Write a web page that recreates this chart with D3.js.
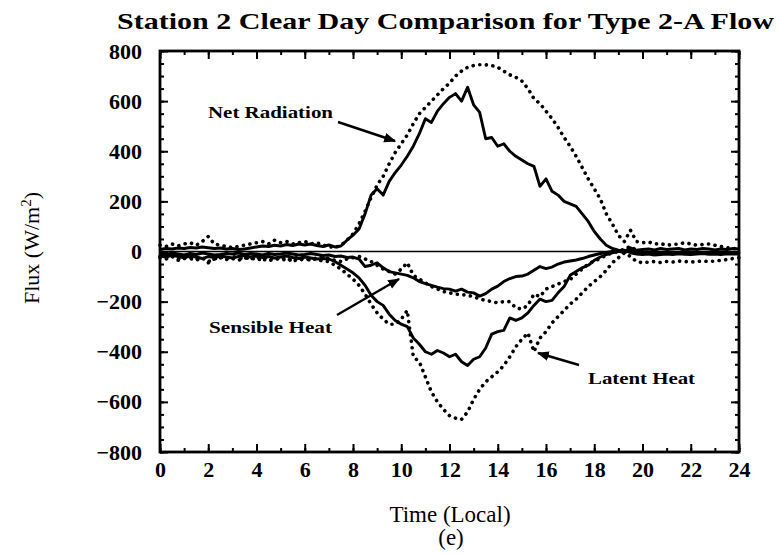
<!DOCTYPE html>
<html><head><meta charset="utf-8">
<script src="https://cdn.jsdelivr.net/npm/d3@7"></script>
<style>body{margin:0;background:#fff}</style>
</head><body>
<svg id="chart" width="779" height="554"></svg>
<script>
const hours = [0,0.25,0.5,0.75,1,1.25,1.5,1.75,2,2.25,2.5,2.75,3,3.25,3.5,3.75,4,4.25,4.5,4.75,5,5.25,5.5,5.75,6,6.25,6.5,6.75,7,7.25,7.5,7.75,8,8.25,8.5,8.75,9,9.25,9.5,9.75,10,10.25,10.5,10.75,11,11.25,11.5,11.75,12,12.25,12.5,12.75,13,13.25,13.5,13.75,14,14.25,14.5,14.75,15,15.25,15.5,15.75,16,16.25,16.5,16.75,17,17.25,17.5,17.75,18,18.25,18.5,18.75,19,19.25,19.5,19.75,20,20.25,20.5,20.75,21,21.25,21.5,21.75,22,22.25,22.5,22.75,23,23.25,23.5,23.75,24];

const netRadSolid = [8,12,10,14, 12,16,14,18, 15,12,14,10, 12,8,10,14, 18,22,20,25, 22,28,24,30, 26,30,24,20, 26,18,22,45, 65,90,150,225, 250,225,280,315, 345,380,420,470, 530,515,560,590, 615,630,600,655, 585,555,450,455, 420,430,400,380, 365,350,340,260, 290,240,225,200, 190,180,150,120, 80,50,25,12, 5,0,15,5, 8,10,6,12, 8,10,12,6, 10,8,12,10, 6,10,8,12, 10];
const netRadDotted = [25,20,30,22, 30,35,25,40, 60,30,25,20, 15,20,25,30, 35,40,30,45, 35,40,30,35, 40,30,35,25, 20,15,25,45, 70,110,160,215, 265,300,350,395, 430,465,510,550, 575,600,625,650, 672,700,720,735, 742,745,745,742, 735,720,705,695, 680,650,610,590, 560,530,495,455, 420,380,335,290, 250,210,150,110, 65,40,85,40, 35,38,30,32, 25,28,30,35, 30,25,28,30, 25,20,15,12, 10];
const sensibleSolid = [-8,-12,-6,-10, -14,-8,-12,-6, -10,-14,-12,-8, -10,-6,-12,-8, -10,-14,-8,-12, -10,-6,-10,-14, -12,-8,-12,-16, -14,-20,-18,-24, -22,-30,-60,-55, -45,-65,-80,-85, -90,-95,-105,-120, -128,-135,-142,-148, -150,-158,-150,-162, -165,-178,-168,-150, -138,-120,-108,-100, -98,-90,-75,-60, -68,-62,-50,-42, -38,-34,-28,-20, -14,-8,-4,0, 2,-5,5,-2, -5,-8,-6,-4, -6,-8,-5,-7, -4,-6,-8,-5, -6,-4,-7,-5, -6];
const sensibleDotted = [-20,-25,-18,-30, -22,-28,-35,-25, -40,-30,-22,-28, -20,-25,-30,-22, -35,-28,-20,-32, -25,-38,-30,-22, -28,-35,-25,-20, -30,-35,-40,-30, -25,-20,-30,-40, -55,-70,-80,-90, -70,-45,-95,-110, -125,-140,-150,-160, -165,-170,-172,-175, -180,-190,-195,-200, -205,-200,-200,-225, -230,-215,-170,-180, -150,-140,-130,-120, -112,-90,-70,-50, -38,-28,-15,-5, 0,10,20,5, 0,-5,-8,-6, -5,-8,-6,-4, -6,-8,-5,-7, -6,-5,-8,-6, -5];
const latentSolid = [-18,-22,-15,-20, -25,-18,-22,-28, -20,-24,-18,-22, -26,-20,-16,-22, -18,-24,-20,-26, -22,-18,-24,-28, -22,-26,-30,-28, -30,-40,-55,-70, -85,-105,-135,-175, -200,-215,-250,-275, -290,-300,-345,-370, -400,-410,-395,-405, -420,-410,-440,-455, -430,-420,-385,-330, -320,-315,-265,-275, -265,-245,-215,-190, -200,-195,-165,-140, -95,-80,-65,-55, -35,-22,-12,-5, 0,5,-5,-10, -12,-10,-14,-12, -10,-12,-9,-11, -12,-10,-8,-11, -10,-12,-9,-10, -10];
const latentDotted = [-25,-30,-20,-35, -28,-22,-30,-25, -45,-30,-25,-32, -28,-35,-25,-30, -22,-30,-38,-28, -32,-25,-40,-30, -35,-28,-32,-38, -40,-55,-70,-90, -110,-135,-170,-210, -245,-270,-290,-290, -270,-235,-420,-440, -500,-560,-600,-630, -655,-665,-670,-640, -590,-550,-520,-500, -480,-455,-420,-380, -350,-325,-400,-345, -320,-285,-260,-235, -210,-190,-165,-140, -120,-100,-75,-45, -25,-5,-20,-40, -45,-42,-40,-44, -40,-42,-38,-40, -42,-40,-38,-40, -38,-35,-32,-28, -25];

const xTickLabels = [0,2,4,6,8,10,12,14,16,18,20,22,24];
const yTickLabels = [-800,-600,-400,-200,0,200,400,600,800];
const annotations = ["Net Radiation","Sensible Heat","Latent Heat"];

const svg = d3.select("#chart");
const L=160, R=739, T=51, B=452;
const x = d3.scaleLinear().domain([0,24]).range([L,R]);
const y = d3.scaleLinear().domain([-800,800]).range([B,T]);
const font = "'Liberation Serif', 'DejaVu Serif', serif";

// zero line
svg.append("line").attr("x1",L).attr("x2",R).attr("y1",y(0)).attr("y2",y(0))
  .attr("stroke","#000").attr("stroke-width",1.4);

const series = [
  {v: netRadSolid, dot:false},
  {v: sensibleSolid, dot:false},
  {v: latentSolid, dot:false},
  {v: netRadDotted, dot:true},
  {v: sensibleDotted, dot:true},
  {v: latentDotted, dot:true}
];
const line = d3.line().x((d,i)=>x(hours[i])).y(d=>y(d));
series.forEach(s=>{
  const p = svg.append("path").datum(s.v).attr("d", line).attr("fill","none").attr("stroke","#000");
  if (s.dot) p.attr("stroke-width",3.6).attr("stroke-linecap","round").attr("stroke-dasharray","0.1,6.5");
  else p.attr("stroke-width",2.9).attr("stroke-linejoin","round");
});

// axes
const minorX = d3.range(0,25,1), minorY = d3.range(-800,801,50);
function styleAxis(g){ g.select(".domain").remove(); g.selectAll("line").attr("stroke","#000").attr("stroke-width",2);
  g.selectAll("text").attr("font-family",font).attr("font-weight","bold").attr("font-size","22px").attr("fill","#000"); }
svg.append("g").attr("transform",`translate(0,${B})`)
  .call(d3.axisBottom(x).tickValues(minorX).tickSizeInner(-4).tickSizeOuter(0).tickFormat("")).call(styleAxis);
svg.append("g").attr("transform",`translate(0,${T})`)
  .call(d3.axisTop(x).tickValues(minorX).tickSizeInner(-4).tickSizeOuter(0).tickFormat("")).call(styleAxis);
svg.append("g").attr("transform",`translate(0,${B})`)
  .call(d3.axisBottom(x).tickValues(xTickLabels).tickSizeInner(-8).tickSizeOuter(0).tickPadding(9).tickFormat(d3.format("d"))).call(styleAxis);
svg.append("g").attr("transform",`translate(0,${T})`)
  .call(d3.axisTop(x).tickValues(xTickLabels).tickSizeInner(-8).tickSizeOuter(0).tickFormat("")).call(styleAxis);
svg.append("g").attr("transform",`translate(${L},0)`)
  .call(d3.axisLeft(y).tickValues(minorY).tickSizeInner(-4).tickSizeOuter(0).tickFormat("")).call(styleAxis);
svg.append("g").attr("transform",`translate(${R},0)`)
  .call(d3.axisRight(y).tickValues(minorY).tickSizeInner(-4).tickSizeOuter(0).tickFormat("")).call(styleAxis);
svg.append("g").attr("transform",`translate(${L},0)`)
  .call(d3.axisLeft(y).tickValues(yTickLabels).tickSizeInner(-8).tickSizeOuter(0).tickPadding(18).tickFormat(d3.format("d"))).call(styleAxis);
svg.append("g").attr("transform",`translate(${R},0)`)
  .call(d3.axisRight(y).tickValues(yTickLabels).tickSizeInner(-8).tickSizeOuter(0).tickFormat("")).call(styleAxis);

svg.append("rect").attr("x",L).attr("y",T).attr("width",R-L).attr("height",B-T)
  .attr("fill","none").attr("stroke","#000").attr("stroke-width",2.8);

// title and axis labels
svg.append("text").attr("x",117).attr("y",29).attr("font-family",font).attr("font-weight","bold")
  .attr("font-size","23px").attr("textLength",657).attr("lengthAdjust","spacingAndGlyphs")
  .text("Station 2 Clear Day Comparison for Type 2-A Flow");
const yl = svg.append("text").attr("transform","translate(39,248) rotate(-90)").attr("text-anchor","middle")
  .attr("font-family",font).attr("font-size","22px");
yl.append("tspan").text("Flux (W/m");
yl.append("tspan").attr("dy",-8).attr("font-size","15px").text("2");
yl.append("tspan").attr("dy",8).text(")");
svg.append("text").attr("x",450).attr("y",522).attr("text-anchor","middle").attr("font-family",font)
  .attr("font-size","23px").text("Time (Local)");
svg.append("text").attr("x",451).attr("y",545).attr("text-anchor","middle").attr("font-family",font)
  .attr("font-size","23px").text("(e)");

// annotations
svg.append("defs").append("marker").attr("id","ah").attr("viewBox","0 0 10 10").attr("refX",9).attr("refY",5)
  .attr("markerWidth",5).attr("markerHeight",5).attr("orient","auto")
  .append("path").attr("d","M0,1 L10,5 L0,9 Z").attr("fill","#000");
const ann = [
  {t:annotations[0], tx:208, ty:118, w:125, x1:338, y1:122, x2:395, y2:141},
  {t:annotations[1], tx:209, ty:333, w:123, x1:337, y1:315, x2:399, y2:279},
  {t:annotations[2], tx:588, ty:384, w:107, x1:579, y1:365, x2:538, y2:353}
];
ann.forEach(a=>{
  svg.append("text").attr("x",a.tx).attr("y",a.ty).attr("font-family",font).attr("font-weight","bold")
    .attr("font-size","16px").attr("textLength",a.w).attr("lengthAdjust","spacingAndGlyphs").text(a.t);
  svg.append("line").attr("x1",a.x1).attr("y1",a.y1).attr("x2",a.x2).attr("y2",a.y2)
    .attr("stroke","#000").attr("stroke-width",2.4).attr("marker-end","url(#ah)");
});
</script>
</body></html>
